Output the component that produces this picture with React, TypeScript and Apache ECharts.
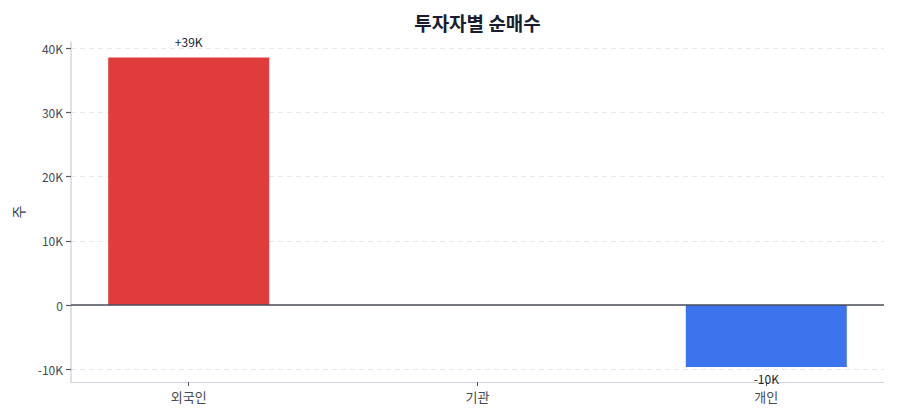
import React from 'react';
import * as echarts from 'echarts';

// 투자자별 순매수 데이터
const categories = ['외국인', '기관', '개인'];
const netBuy = [38600, 0, -9650];
const yTicks = [-10000, 0, 10000, 20000, 30000, 40000];

const FONT = '"Noto Sans CJK KR", "Noto Sans", sans-serif';

function formatK(value: number): string {
  if (value === 0) return '0';
  return `${Math.round(value / 1000)}K`;
}

function formatLabel(value: number): string {
  if (value === 0) return '';
  const k = Math.round(value / 1000);
  return k > 0 ? `+${k}K` : `${k}K`;
}

export default function App() {
  const chartRef = React.useRef<HTMLDivElement>(null);

  React.useEffect(() => {
    document.body.style.margin = '0';
    if (!chartRef.current) return;

    const chart = echarts.init(chartRef.current, undefined, { renderer: 'svg' });

    const option: echarts.EChartsOption = {
      animation: false,
      backgroundColor: '#ffffff',
      textStyle: { fontFamily: FONT },
      title: {
        text: '투자자별 순매수',
        left: 472.5,
        top: 8,
        textAlign: 'center',
        textStyle: {
          fontFamily: FONT,
          fontSize: 19,
          fontWeight: 'bold',
          color: '#1a1d2e',
        },
      },
      grid: {
        left: 71,
        right: 16,
        top: 42,
        bottom: 38,
      },
      xAxis: {
        type: 'value',
        min: -0.4075,
        max: 2.4075,
        axisLine: {
          show: true,
          onZero: false,
          lineStyle: { color: '#d3d6df', width: 1 },
        },
        axisTick: {
          show: true,
          length: 4,
          customValues: [0, 1, 2],
          lineStyle: { color: '#555a66' },
        },
        axisLabel: {
          customValues: [0, 1, 2],
          formatter: (v: number) => categories[Math.round(v)] ?? '',
          fontFamily: FONT,
          fontSize: 13,
          color: '#444a56',
          margin: 8,
        },
        splitLine: { show: false },
      },
      yAxis: {
        type: 'value',
        min: -12000,
        max: 41000,
        name: '주',
        nameLocation: 'middle',
        nameGap: 46,
        nameTextStyle: {
          fontFamily: FONT,
          fontSize: 14,
          color: '#3a3f4c',
        },
        axisLine: {
          show: true,
          onZero: false,
          lineStyle: { color: '#d3d6df', width: 1.5 },
        },
        axisTick: {
          show: true,
          length: 5,
          customValues: yTicks,
          lineStyle: { color: '#555a66', width: 1.2 },
        },
        axisLabel: {
          customValues: yTicks,
          formatter: (v: number) => formatK(v),
          fontFamily: FONT,
          fontSize: 12,
          color: '#444a56',
          margin: 8,
        },
        splitLine: {
          show: true,
          lineStyle: { color: '#e6e8ee', type: [5, 4], width: 1 },
        },
      },
      series: [
        {
          type: 'bar',
          barWidth: 161,
          data: netBuy.map((v, i) => ({
            value: [i, v],
            itemStyle: { color: v >= 0 ? '#e03c3c' : '#3b74ec' },
            label: {
              show: v !== 0,
              position: v >= 0 ? 'top' : 'bottom',
              distance: v >= 0 ? 10 : 6,
              formatter: () => formatLabel(v),
              fontFamily: FONT,
              fontSize: 12,
              color: '#222530',
            },
          })),
          markLine: {
            silent: true,
            symbol: ['none', 'none'],
            label: { show: false },
            lineStyle: { color: '#4a4e5c', type: 'solid', width: 1.5 },
            data: [{ yAxis: 0 }],
          },
        },
      ],
    };

    chart.setOption(option);

    return () => {
      chart.dispose();
    };
  }, []);

  return <div ref={chartRef} style={{ width: 900, height: 420 }} />;
}
